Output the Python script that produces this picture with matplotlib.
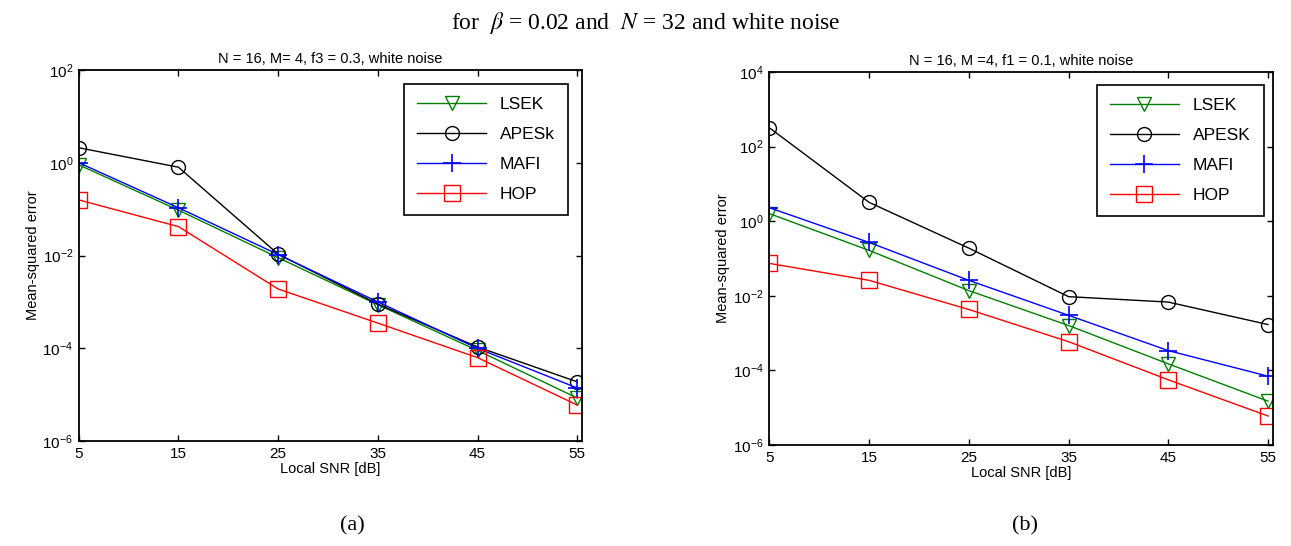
import matplotlib.pyplot as plt
from matplotlib.ticker import FixedLocator, NullLocator

snr = [5, 15, 25, 35, 45, 55]

# (a) f3 = 0.3
lsek_a = [0.9, 0.095, 0.009, 8.7e-4, 9e-5, 8.5e-6]
apes_a = [2.1, 0.8, 0.0107, 9e-4, 1.07e-4, 1.9e-5]
mafi_a = [1.0, 0.107, 0.0105, 1.0e-3, 1.0e-4, 1.4e-5]
hop_a = [0.158, 0.042, 1.9e-3, 3.5e-4, 6.3e-5, 6e-6]

# (b) f1 = 0.1
lsek_b = [1.6, 0.165, 0.0138, 1.6e-3, 1.5e-4, 1.5e-5]
apes_b = [320, 3.2, 0.19, 0.0095, 6.8e-3, 1.7e-3]
mafi_b = [2.3, 0.27, 0.026, 3e-3, 3.4e-4, 7e-5]
hop_b = [0.074, 0.026, 4.3e-3, 5.9e-4, 5.6e-5, 6e-6]

plt.rcParams['font.family'] = ['Liberation Sans', 'DejaVu Sans']
plt.rcParams['mathtext.fontset'] = 'custom'
plt.rcParams['mathtext.rm'] = 'Liberation Sans'

fig = plt.figure(figsize=(12.91, 5.46), dpi=100)
ax1 = fig.add_axes([0.061, 0.192, 0.390, 0.680])
ax2 = fig.add_axes([0.596, 0.185, 0.390, 0.683])


def draw(ax, lsek, apes, mafi, hop, apes_name, title, ylim, yexp, anchor):
    ax.plot(snr, lsek, color='#008000', lw=1, marker='v', ms=10, mfc='none', mew=1, label='LSEK')
    ax.plot(snr, apes, color='black', lw=1, marker='o', ms=10, mfc='none', mew=1, label=apes_name)
    ax.plot(snr, mafi, color='#0000ff', lw=1, marker='+', ms=13, mew=1.2, label='MAFI')
    ax.plot(snr, hop, color='#ff0000', lw=1, marker='s', ms=11, mfc='none', mew=1, label='HOP')
    ax.set_yscale('log')
    ax.set_xlim(5, 55.5)
    ax.set_ylim(*ylim)
    ax.xaxis.set_major_locator(FixedLocator(snr))
    ax.yaxis.set_major_locator(FixedLocator([10.0 ** e for e in yexp]))
    ax.yaxis.set_minor_locator(NullLocator())
    ax.set_yticklabels([r'$\mathregular{10^{%d}}$' % e for e in yexp])
    ax.tick_params(direction='in', top=True, right=True, length=4, width=1, labelsize=11, pad=4)
    for s in ax.spines.values():
        s.set_linewidth(1.3)
    ax.set_title(title, fontsize=10.5, pad=5)
    ax.set_xlabel('Local SNR [dB]', fontsize=10.5, labelpad=1)
    ax.set_ylabel('Mean-squared error', fontsize=10.5, labelpad=2)
    leg = ax.legend(loc='upper right', fontsize=12.5, handlelength=4.0, borderpad=0.75,
                    labelspacing=0.85, fancybox=False, framealpha=1, edgecolor='black',
                    bbox_to_anchor=anchor, borderaxespad=0)
    leg.get_frame().set_linewidth(1.2)


draw(ax1, lsek_a, apes_a, mafi_a, hop_a, 'APESk', 'N = 16, M= 4, f3 = 0.3, white noise',
     (1e-6, 1e2), [-6, -4, -2, 0, 2], (0.972, 0.962))
draw(ax2, lsek_b, apes_b, mafi_b, hop_b, 'APESK', 'N = 16, M =4, f1 = 0.1, white noise',
     (1e-6, 1e4), [-6, -4, -2, 0, 2, 4], (0.982, 0.965))

fig.text(0.5, 0.958, r'for  $\beta$ = 0.02 and  $N$ = 32 and white noise', ha='center', va='center',
         fontsize=17, family='Liberation Serif', math_fontfamily='stix')
fig.text(0.273, 0.037, '(a)', ha='center', va='center', fontsize=16, family='Liberation Serif')
fig.text(0.794, 0.037, '(b)', ha='center', va='center', fontsize=16, family='Liberation Serif')

fig.savefig('out.png', dpi=100)
